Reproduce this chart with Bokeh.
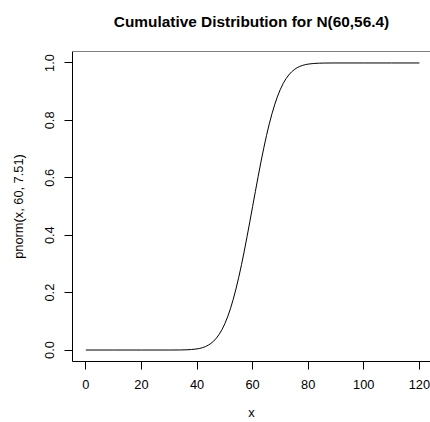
from bokeh.plotting import figure
from bokeh.models import Span, FixedTicker, Range1d, Title
from bokeh.embed import file_html
from bokeh.resources import INLINE

# values
x_vals = [0, 10, 20, 30, 34, 36, 38, 40, 41, 42, 43, 44, 45, 46, 47, 48, 49, 50,
          51, 52, 53, 54, 55, 56, 57, 58, 59, 60, 61, 62, 63, 64, 65, 66, 67, 68,
          69, 70, 71, 72, 73, 74, 75, 76, 77, 78, 79, 80, 82, 84, 86, 90, 100, 110, 120]
y_vals = [0.0, 0.0, 0.0, 0.0, 0.0002, 0.0007, 0.0017, 0.0039, 0.0057, 0.0083,
          0.0118, 0.0166, 0.0229, 0.0312, 0.0417, 0.0550, 0.0715, 0.0915,
          0.1154, 0.1434, 0.1757, 0.2121, 0.2528, 0.2971, 0.3448, 0.3951,
          0.4471, 0.5, 0.5529, 0.6049, 0.6552, 0.7029, 0.7472, 0.7879, 0.8243,
          0.8566, 0.8846, 0.9085, 0.9285, 0.9450, 0.9583, 0.9688, 0.9771,
          0.9834, 0.9882, 0.9917, 0.9943, 0.9961, 0.9983, 0.9993, 0.9998,
          1.0, 1.0, 1.0, 1.0]
x_ticks = [0, 20, 40, 60, 80, 100, 120]
y_ticks = [0.0, 0.2, 0.4, 0.6, 0.8, 1.0]
y_tick_labels = {0.0: "0.0", 0.2: "0.2", 0.4: "0.4", 0.6: "0.6", 0.8: "0.8", 1.0: "1.0"}
title_text = "Cumulative Distribution for N(60,56.4)"
x_label = "x"
y_label = "pnorm(x, 60, 7.51)"

FONT = "Liberation Sans"
X_LO, X_HI = -4.8, 124.0
Y_LO, Y_HI = -0.04, 1.04

p = figure(width=430, height=422, output_backend="svg", toolbar_location=None,
           x_range=Range1d(X_LO, X_HI), y_range=Range1d(Y_LO, Y_HI),
           min_border_left=72, min_border_right=0, min_border_top=51,
           min_border_bottom=60)

p.line(x_vals, y_vals, line_color="black", line_width=1)

p.grid.visible = False
p.outline_line_color = None
p.background_fill_color = "white"
p.border_fill_color = "white"

p.add_layout(Span(location=Y_HI, dimension="width", line_color="black", line_width=1))

# spacer between frame and title, then the title itself
p.add_layout(Title(text=" ", text_font_size="1px", standoff=19), "above")
p.add_layout(Title(text=title_text, text_font=FONT, text_font_size="15.4px",
                   text_font_style="bold", align="center", standoff=0,
                   text_color="black"), "above")

for ax in (p.xaxis[0], p.yaxis[0]):
    ax.axis_line_color = "black"
    ax.axis_line_width = 1
    ax.major_tick_in = 0
    ax.major_tick_out = 8
    ax.major_tick_line_color = "black"
    ax.minor_tick_line_color = None
    ax.major_label_text_font = FONT
    ax.major_label_text_font_size = "12.8px"
    ax.major_label_text_color = "black"
    ax.axis_label_text_font = FONT
    ax.axis_label_text_font_size = "12.8px"
    ax.axis_label_text_font_style = "normal"
    ax.axis_label_text_color = "black"

p.xaxis[0].ticker = FixedTicker(ticks=x_ticks)
p.xaxis[0].major_label_standoff = 10
p.xaxis[0].axis_label = x_label
p.xaxis[0].axis_label_standoff = 13

p.yaxis[0].ticker = FixedTicker(ticks=y_ticks)
p.yaxis[0].major_label_overrides = y_tick_labels
p.yaxis[0].major_label_orientation = "vertical"
p.yaxis[0].major_label_standoff = 10
p.yaxis[0].axis_label = y_label
p.yaxis[0].axis_label_standoff = 17

open("out.html", "w").write(file_html(p, INLINE))
